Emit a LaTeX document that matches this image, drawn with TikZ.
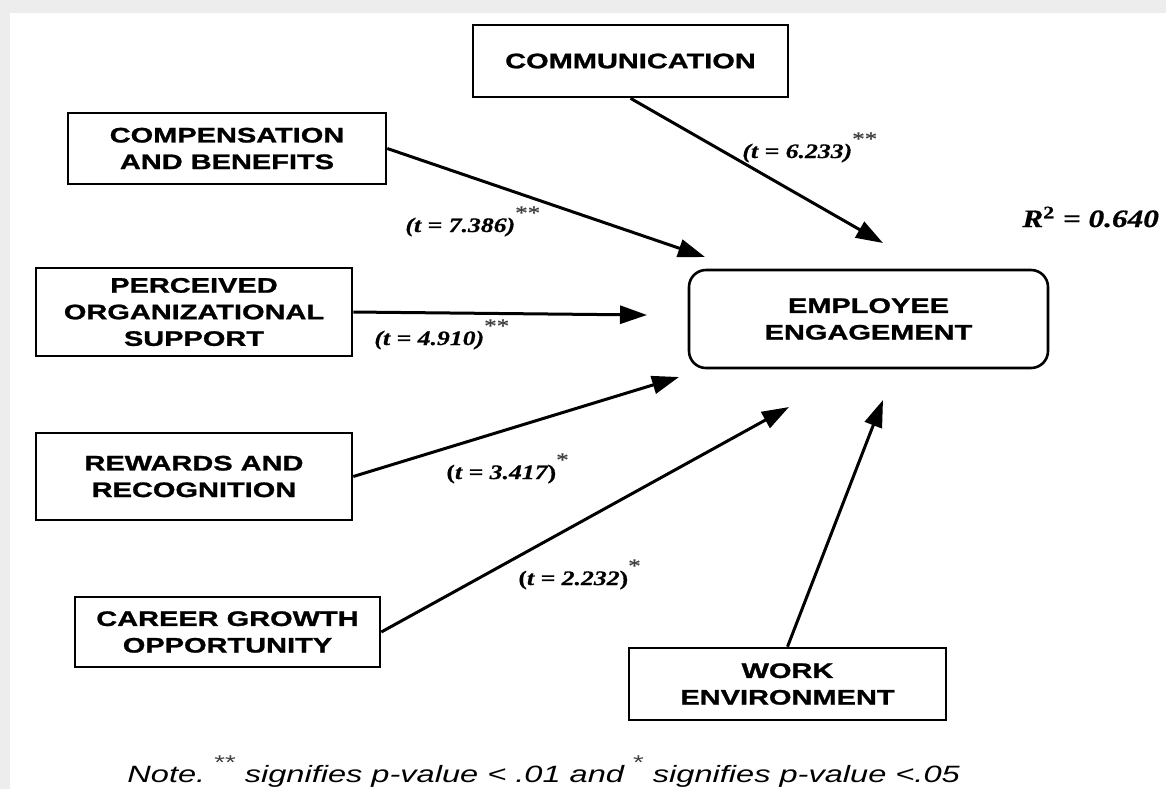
\documentclass[tikz,border=0pt]{standalone}
\usepackage{fontspec}
\usepackage{tikz}
\usetikzlibrary{arrows.meta}
\newfontfamily\boxfont[FakeStretch=1.38,FakeBold=1.2]{Liberation Sans}
\newfontfamily\notefont[FakeStretch=1.38]{Liberation Sans}
\newfontfamily\tfont[FakeStretch=1.25,FakeBold=0.6]{Liberation Serif}
\newcommand{\sigmark}[1]{\raisebox{6.3pt}{\fontsize{10}{10}\selectfont\mdseries\upshape\color{black!75}#1}}

\begin{document}
\begin{tikzpicture}[x=0.5pt,y=-0.5pt,
  factor/.style={draw, line width=1.3pt, align=center, inner sep=0pt,
    font=\boxfont\bfseries\fontsize{10.5}{13.3}\selectfont},
  link/.style={line width=1.5pt, -{Triangle[length=13.5pt,width=9pt]}},
  tval/.style={anchor=base west, inner sep=0pt,
    font=\tfont\bfseries\itshape\fontsize{10.3}{12}\selectfont}]
\useasboundingbox (0,0) rectangle (1166,789);
\fill[black!7] (0,0) rectangle (1166,789);
\fill[white] (10,13) rectangle (1166,789);

\node[factor, minimum width=157.5pt, minimum height=36pt] (comm) at (630.5,61) {COMMUNICATION};
\node[factor, minimum width=159pt, minimum height=35.5pt] (comp) at (227,148.5) {COMPENSATION\\AND BENEFITS};
\node[factor, minimum width=158pt, minimum height=44pt] (perc) at (194,312) {PERCEIVED\\ORGANIZATIONAL\\SUPPORT};
\node[factor, minimum width=158pt, minimum height=43.5pt] (rew) at (194,476.5) {REWARDS AND\\RECOGNITION};
\node[factor, minimum width=152.5pt, minimum height=35pt] (car) at (227.5,632) {CAREER GROWTH\\OPPORTUNITY};
\node[factor, minimum width=158.5pt, minimum height=36pt] (work) at (787.5,684) {WORK\\ENVIRONMENT};
\node[factor, rounded corners=8.5pt, minimum width=179.5pt, minimum height=49pt] (ee) at (868.5,319) {EMPLOYEE\\ENGAGEMENT};

\coordinate (tcomm) at (883,243);
\coordinate (tcomp) at (705,257);
\coordinate (tperc) at (647,315);
\coordinate (trew) at (679,377);
\coordinate (tcar) at (789,407);
\coordinate (twork) at (883,400);

\draw[link] (comm.south) -- (tcomm);
\draw[link] (comp.east) -- (tcomp);
\draw[link] (perc.east) -- (tperc);
\draw[link] (rew.east) -- (trew);
\draw[link] (car.east) -- (tcar);
\draw[link] (work.north) -- (twork);

\node[tval] (lcomm) at (742,158) {(t = 6.233)\sigmark{**}};
\node[tval] (lcomp) at (405,232) {(t = 7.386)\sigmark{**}};
\node[tval] (lperc) at (374,345) {(t = 4.910)\sigmark{**}};
\node[tval] (lrew) at (446,479) {\upshape(\itshape t = 3.417\upshape)\sigmark{*}};
\node[tval] (lcar) at (518,585) {\upshape(\itshape t = 2.232\upshape)\sigmark{*}};
\node[tval, font=\tfont\bfseries\itshape\fontsize{12.5}{14}\selectfont] (rsq) at (1022,227) {R\textsuperscript{\upshape 2} = 0.640};

\node[anchor=base west, inner sep=0pt, font=\notefont\itshape\fontsize{11.8}{13}\selectfont] (note) at (127,782)
  {Note.\ \sigmark{**} signifies p-value < .01 and \sigmark{*} signifies p-value <.05};
\end{tikzpicture}
\end{document}
